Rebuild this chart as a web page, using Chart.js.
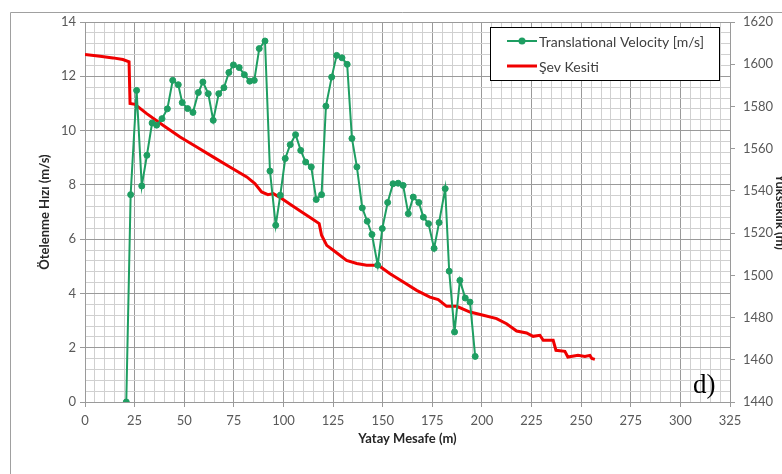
<!DOCTYPE html>
<html lang="tr">
<head>
<meta charset="utf-8">
<script src="https://cdn.jsdelivr.net/npm/chart.js@4.4.1/dist/chart.umd.min.js"></script>
<style>
  html, body { margin: 0; padding: 0; background: #fff; overflow: hidden; }
  #wrap { width: 795px; height: 474px; position: relative; }
</style>
</head>
<body>
<div id="wrap"><canvas id="chart"></canvas></div>
<script>
// Translational velocity (left axis)
const velX = [20.8, 23.0, 26.0, 28.6, 31.2, 33.8, 36.1, 38.8, 41.5, 44.2, 47.0, 49.0, 51.7, 54.4,
  57.1, 59.4, 62.1, 64.6, 67.4, 70.0, 72.5, 74.8, 77.7, 80.3, 83.0, 85.3, 87.8, 90.7, 93.2, 96.1,
  98.4, 100.9, 103.4, 106.1, 108.7, 111.2, 114.0, 116.5, 119.2, 121.4, 124.3, 126.8, 129.5, 132.1,
  134.5, 137.0, 139.7, 142.2, 144.6, 147.5, 149.8, 152.5, 155.2, 157.8, 160.3, 162.9, 165.4, 168.2,
  170.5, 173.1, 175.9, 178.4, 181.5, 183.5, 186.2, 188.9, 191.6, 194.0, 196.6];
const velY = [0, 7.64, 11.48, 7.96, 9.09, 10.28, 10.2, 10.44, 10.8, 11.85, 11.69, 11.03, 10.81, 10.67,
  11.4, 11.79, 11.36, 10.38, 11.36, 11.58, 12.14, 12.42, 12.32, 12.06, 11.82, 11.85, 13.02, 13.3, 8.51, 6.51,
  7.62, 8.97, 9.48, 9.85, 9.27, 8.84, 8.66, 7.46, 7.64, 10.9, 11.97, 12.77, 12.68, 12.44,
  9.71, 8.66, 7.15, 6.66, 6.17, 5.04, 6.39, 7.35, 8.04, 8.06, 7.98, 6.94, 7.55, 7.35,
  6.81, 6.57, 5.66, 6.61, 7.86, 4.82, 2.58, 4.48, 3.83, 3.68, 1.68];

// Şev kesiti (right axis, elevation)
const slopeX = [0, 7.6, 14.1, 19.1, 22.2, 22.7, 25.2, 31.1, 39.3, 47.9, 56.3, 64.5, 73.0, 81.5, 85.6,
  89.0, 92.2, 94.9, 99.1, 104.1, 109.2, 114.2, 118.0, 119.2, 121.8, 125.1, 131.8, 136.9, 141.9, 147.8,
  153.7, 160.4, 167.1, 173.8, 178.0, 182.2, 187.3, 194.0, 200.7, 207.4, 212.4, 217.5, 222.5, 225.8,
  229.2, 230.9, 235.9, 237.3, 241.8, 243.3, 248.4, 251.9, 254.4, 255.4, 256.9];
const slopeY = [1604.6, 1603.8, 1603.0, 1602.2, 1601.1, 1581.4, 1581.0, 1576.6, 1571.1, 1565.5, 1560.8, 1556.1, 1551.3, 1546.6, 1543.5,
  1539.5, 1538.2, 1538.7, 1536.4, 1533.2, 1530.0, 1526.9, 1524.5, 1519.0, 1514.2, 1511.9, 1507.1, 1505.6, 1504.8, 1504.8,
  1500.8, 1496.8, 1492.9, 1489.7, 1488.5, 1485.3, 1485.3, 1482.6, 1481.1, 1479.5, 1477.1, 1473.6, 1472.7, 1471.1,
  1471.6, 1469.2, 1469.2, 1464.5, 1464.0, 1461.3, 1462.1, 1461.6, 1462.1, 1460.6, 1460.2];

const seriesLabels = ['Translational Velocity [m/s]', 'Şev Kesiti'];
const xTitle = 'Yatay Mesafe (m)';
const yTitle = 'Ötelenme Hızı (m/s)';
const y2Title = 'Yükseklik (m)';
const panelTag = 'd)';

const GREEN = '#1e9e62';
const RED = '#f00000';
const MAJOR = '#9a9a9a';
const MINOR = '#d0d0d0';
const TICK_TEXT = '#595959';
const FONT = 'Lato, "Open Sans", sans-serif';

function zip(xs, ys) {
  return xs.map((x, i) => ({ x, y: ys[i] }));
}

function isMajorX(v) {
  return Math.round(v) % 25 === 0;
}

function isMajorY(v) {
  return Math.round(v * 10) % 20 === 0;
}

// outer frame of the chart object + legend + panel tag
const decorations = {
  id: 'decorations',
  beforeDraw(chart) {
    const ctx = chart.ctx;
    ctx.save();
    ctx.strokeStyle = '#a0a0a0';
    ctx.lineWidth = 1;
    ctx.beginPath();
    ctx.moveTo(10.5, 474);
    ctx.lineTo(10.5, 12.5);
    ctx.lineTo(795, 12.5);
    ctx.stroke();
    ctx.restore();
  },
  afterDraw(chart) {
    const ctx = chart.ctx;
    ctx.save();
    // legend box
    ctx.fillStyle = '#fff';
    ctx.fillRect(490, 27, 229, 53);
    ctx.strokeStyle = '#000';
    ctx.lineWidth = 1;
    ctx.strokeRect(490.5, 27.5, 229, 53);

    ctx.font = '14px ' + FONT;
    ctx.textBaseline = 'middle';
    chart.data.datasets.forEach((ds, i) => {
      const y = i === 0 ? 41 : 66;
      ctx.strokeStyle = ds.borderColor;
      ctx.lineWidth = ds.borderWidth;
      ctx.beginPath();
      ctx.moveTo(507, y);
      ctx.lineTo(537, y);
      ctx.stroke();
      if (ds.pointRadius > 0) {
        ctx.fillStyle = ds.pointBackgroundColor;
        ctx.beginPath();
        ctx.arc(522, y, 3.5, 0, Math.PI * 2);
        ctx.fill();
      }
      ctx.fillStyle = '#404040';
      ctx.fillText(ds.label, 539, y + 1);
    });

    // panel tag
    ctx.font = '27px "Liberation Serif", "DejaVu Serif", serif';
    ctx.fillStyle = '#000';
    ctx.textBaseline = 'alphabetic';
    ctx.fillText(panelTag, 693, 393);
    ctx.restore();
  },
};

const ctx = document.getElementById('chart').getContext('2d');
new Chart(ctx, {
  type: 'line',
  data: {
    datasets: [
      {
        label: seriesLabels[0],
        data: zip(velX, velY),
        yAxisID: 'y',
        borderColor: GREEN,
        backgroundColor: GREEN,
        pointBackgroundColor: GREEN,
        pointBorderColor: GREEN,
        borderWidth: 2,
        pointBorderWidth: 1,
        pointRadius: 3,
        pointHoverRadius: 3,
        tension: 0,
      },
      {
        label: seriesLabels[1],
        data: zip(slopeX, slopeY),
        yAxisID: 'y2',
        borderColor: RED,
        backgroundColor: RED,
        borderWidth: 3,
        pointRadius: 0,
        tension: 0,
      },
    ],
  },
  options: {
    responsive: true,
    maintainAspectRatio: false,
    animation: false,
    layout: { padding: { top: 22, left: 0, right: 0, bottom: 0 } },
    plugins: {
      legend: { display: false },
      tooltip: { enabled: false },
    },
    scales: {
      x: {
        type: 'linear',
        min: 0,
        max: 325,
        afterFit: (s) => { s.height = 72; },
        ticks: {
          stepSize: 5,
          autoSkip: false,
          maxRotation: 0,
          padding: 6,
          color: TICK_TEXT,
          font: { family: FONT, size: 13 },
          callback: (v) => (isMajorX(v) ? String(Math.round(v)) : ''),
        },
        grid: {
          color: (c) => (isMajorX(c.tick.value) ? MAJOR : MINOR),
          tickColor: (c) => (isMajorX(c.tick.value) ? MAJOR : 'transparent'),
          tickLength: 5,
        },
        border: { color: MAJOR },
        title: {
          display: true,
          text: xTitle,
          color: '#262626',
          font: { family: FONT, size: 13, weight: 'bold' },
          padding: { top: 0, bottom: 27 },
        },
      },
      y: {
        type: 'linear',
        position: 'left',
        min: 0,
        max: 14,
        afterFit: (s) => { s.width = 85; },
        ticks: {
          stepSize: 0.4,
          autoSkip: false,
          padding: 4,
          color: TICK_TEXT,
          font: { family: FONT, size: 13 },
          callback: (v) => (isMajorY(v) ? String(Math.round(v)) : ''),
        },
        grid: {
          color: (c) => (isMajorY(c.tick.value) ? MAJOR : MINOR),
          tickColor: (c) => (isMajorY(c.tick.value) ? MAJOR : 'transparent'),
          tickLength: 5,
        },
        border: { color: MAJOR },
        title: {
          display: true,
          text: yTitle,
          color: '#262626',
          font: { family: FONT, size: 13, weight: 'bold' },
          padding: { top: 37, bottom: 0 },
        },
      },
      y2: {
        type: 'linear',
        position: 'right',
        min: 1440,
        max: 1620,
        afterFit: (s) => { s.width = 65; },
        ticks: {
          stepSize: 20,
          padding: 8,
          color: TICK_TEXT,
          font: { family: FONT, size: 13 },
          callback: (v) => String(v),
        },
        grid: {
          drawOnChartArea: false,
          color: MAJOR,
          tickLength: 5,
        },
        border: { color: MAJOR },
        title: {
          display: true,
          text: y2Title,
          color: '#262626',
          font: { family: FONT, size: 13, weight: 'bold' },
          padding: { top: 7, bottom: 0 },
        },
      },
    },
  },
  plugins: [decorations],
});
</script>
</body>
</html>
